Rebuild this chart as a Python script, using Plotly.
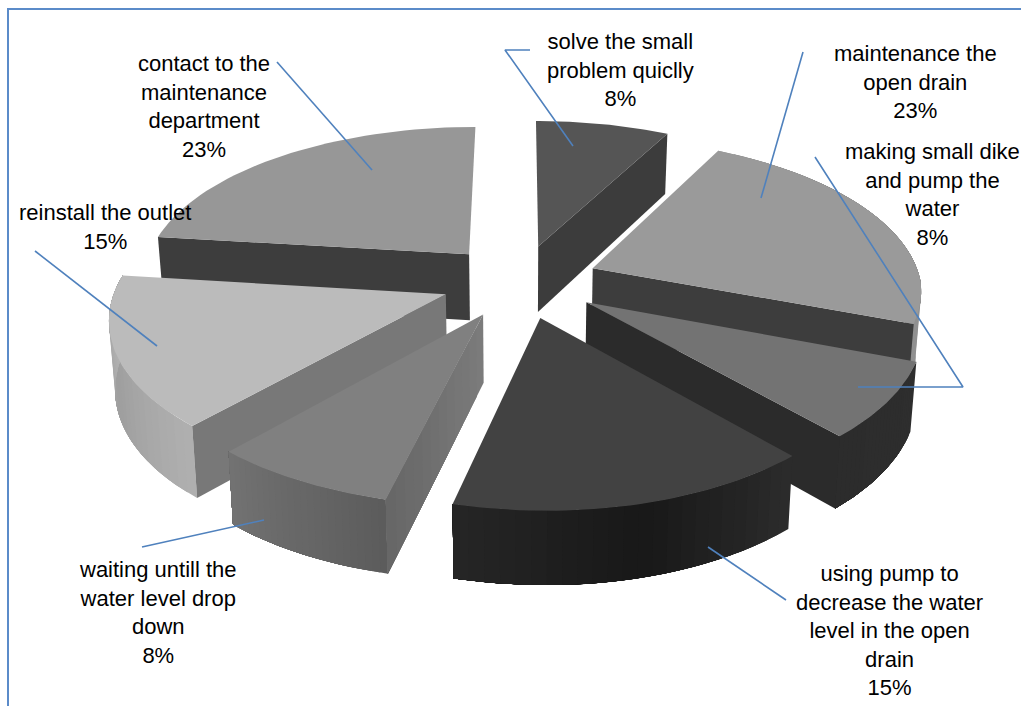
import math
import plotly.graph_objects as go

# ---- data (clockwise from 12 o'clock) ----
categories = [
    "solve the small<br>problem quiclly",
    "maintenance the<br>open drain",
    "making small dike<br>and pump the<br>water",
    "using pump to<br>decrease the water<br>level in the open<br>drain",
    "waiting untill the<br>water level drop<br>down",
    "reinstall the outlet",
    "contact to the<br>maintenance<br>department",
]
counts = [1, 3, 1, 2, 1, 2, 3]  # the printed 8 / 23 / 15 % are thirteenths
top_colors = ["#555555", "#9a9a9a", "#737373", "#424242", "#808080", "#bbbbbb", "#979797"]
# rim gradient stops (grey levels), None = not drawn
rim_greys = [None, [0x90, 0x90], [0x2e, 0x2c], [0x2c, 0x18, 0x26], [0x5c, 0x72], [0xb0, 0x9e, 0xb8], None]
# radial walls: which edge ("start"/"end") and grey levels apex -> rim
wall_edge = ["end", "end", "end", None, "start", "start", "start"]
wall_greys = [[0x3c, 0x3c], [0x3d, 0x3d], [0x2b, 0x2b], None, [0x7c, 0x66], [0x78, 0x78], [0x3d, 0x3d]]
label_x = [620, 915, 932, 889, 158, 105, 204]
label_y = [70, 82, 194, 630, 612, 227, 106]
leader_x = [[530, 505, 573], [803, 761], [815, 963, 858], [786, 708], [142, 264], [35, 157], [277, 372]]
leader_y = [[50, 50, 146], [52, 198], [157, 387, 387], [600, 547], [547, 520], [251, 346], [62, 170]]
draw_order = [6, 0, 1, 5, 2, 4, 3]

# ---- projection of the tilted pie plane ----
CX, CY, A, B, P, EXPLODE, SHEAR, TWIST = 520, 281, 328, 153, 0.145, 0.24, -4, 10
BLUE = "#4f81bd"
TOTAL = sum(counts)


def grey(v):
    v = int(round(v))
    return f"rgb({v},{v},{v})"


def lerp_stops(stops, t):
    s = t * (len(stops) - 1)
    i = min(int(s), len(stops) - 2)
    return stops[i] + (stops[i + 1] - stops[i]) * (s - i)


def project(X, Y, lower=False):
    d = 1 + P * Y
    near = min(Y, 0)
    sx = CX + A * X / d + SHEAR * near + TWIST * max(X, 0) * near
    sy = CY - B * Y / d
    if lower:
        sx = CX + (sx - CX) * 0.985
        sy += 67 - 6 * Y
    return sx, sy


def plane_pt(angle, r, off):
    a = math.radians(angle)
    return off[0] + r * math.sin(a), off[1] + r * math.cos(a)


fig = go.Figure()


def poly(points, color):
    xs = [p[0] for p in points] + [points[0][0]]
    ys = [p[1] for p in points] + [points[0][1]]
    fig.add_trace(go.Scatter(x=xs, y=ys, mode="lines", fill="toself", fillcolor=color,
                             line=dict(color=color, width=0), hoverinfo="skip", showlegend=False))


starts, acc = [], 0
for c in counts:
    starts.append(acc * 360 / TOTAL)
    acc += c

for i in draw_order:
    a0 = starts[i]
    a1 = a0 + counts[i] * 360 / TOTAL
    mid = math.radians((a0 + a1) / 2)
    off = (EXPLODE * math.sin(mid), EXPLODE * math.cos(mid))
    angles = [a0 + (a1 - a0) * k / 40 for k in range(41)]

    if rim_greys[i]:
        n = 24
        for k in range(n):
            # every band runs on to the end of the rim, the next band paints over it: no seams
            b0 = a0 + (a1 - a0) * k / n
            sub = [b0 + (a1 - b0) * j / 30 for j in range(31)]
            up = [project(*plane_pt(a, 1, off)) for a in sub]
            lo = [project(*plane_pt(a, 1, off), lower=True) for a in reversed(sub)]
            poly(up + lo, grey(lerp_stops(rim_greys[i], (k + 0.5) / n)))

    if wall_edge[i]:
        edge = a0 if wall_edge[i] == "start" else a1
        n = 12 if wall_greys[i][0] != wall_greys[i][1] else 1
        for k in range(n):
            r0 = k / n
            poly([project(*plane_pt(edge, r0, off)), project(*plane_pt(edge, 1, off)),
                  project(*plane_pt(edge, 1, off), lower=True), project(*plane_pt(edge, r0, off), lower=True)],
                 grey(lerp_stops(wall_greys[i], (k + 0.5) / n)))

    top = [project(*off)] + [project(*plane_pt(a, 1, off)) for a in angles]
    poly(top, top_colors[i])

for lx, ly in zip(leader_x, leader_y):
    fig.add_trace(go.Scatter(x=lx, y=ly, mode="lines", line=dict(color=BLUE, width=1.6),
                             hoverinfo="skip", showlegend=False))

for name, c, x, y in zip(categories, counts, label_x, label_y):
    fig.add_annotation(x=x, y=y, xref="x", yref="y", text=f"{name}<br>{round(100 * c / TOTAL)}%", showarrow=False,
                       align="center", xanchor="center", yanchor="middle",
                       font=dict(family="Liberation Sans", size=22, color="#000000"))

fig.add_shape(type="rect", x0=8, y0=9, x1=1040, y1=730, line=dict(color="#5b8bc9", width=2),
              fillcolor="rgba(0,0,0,0)", layer="above")

fig.update_layout(width=1021, height=706, margin=dict(l=0, r=0, t=0, b=0),
                  paper_bgcolor="white", plot_bgcolor="white", showlegend=False,
                  xaxis=dict(range=[0, 1021], visible=False, fixedrange=True),
                  yaxis=dict(range=[706, 0], visible=False, fixedrange=True))

fig.write_html("out.html", post_script="document.body.style.margin='0';document.documentElement.style.overflow='hidden';",
               config={"displayModeBar": False})
